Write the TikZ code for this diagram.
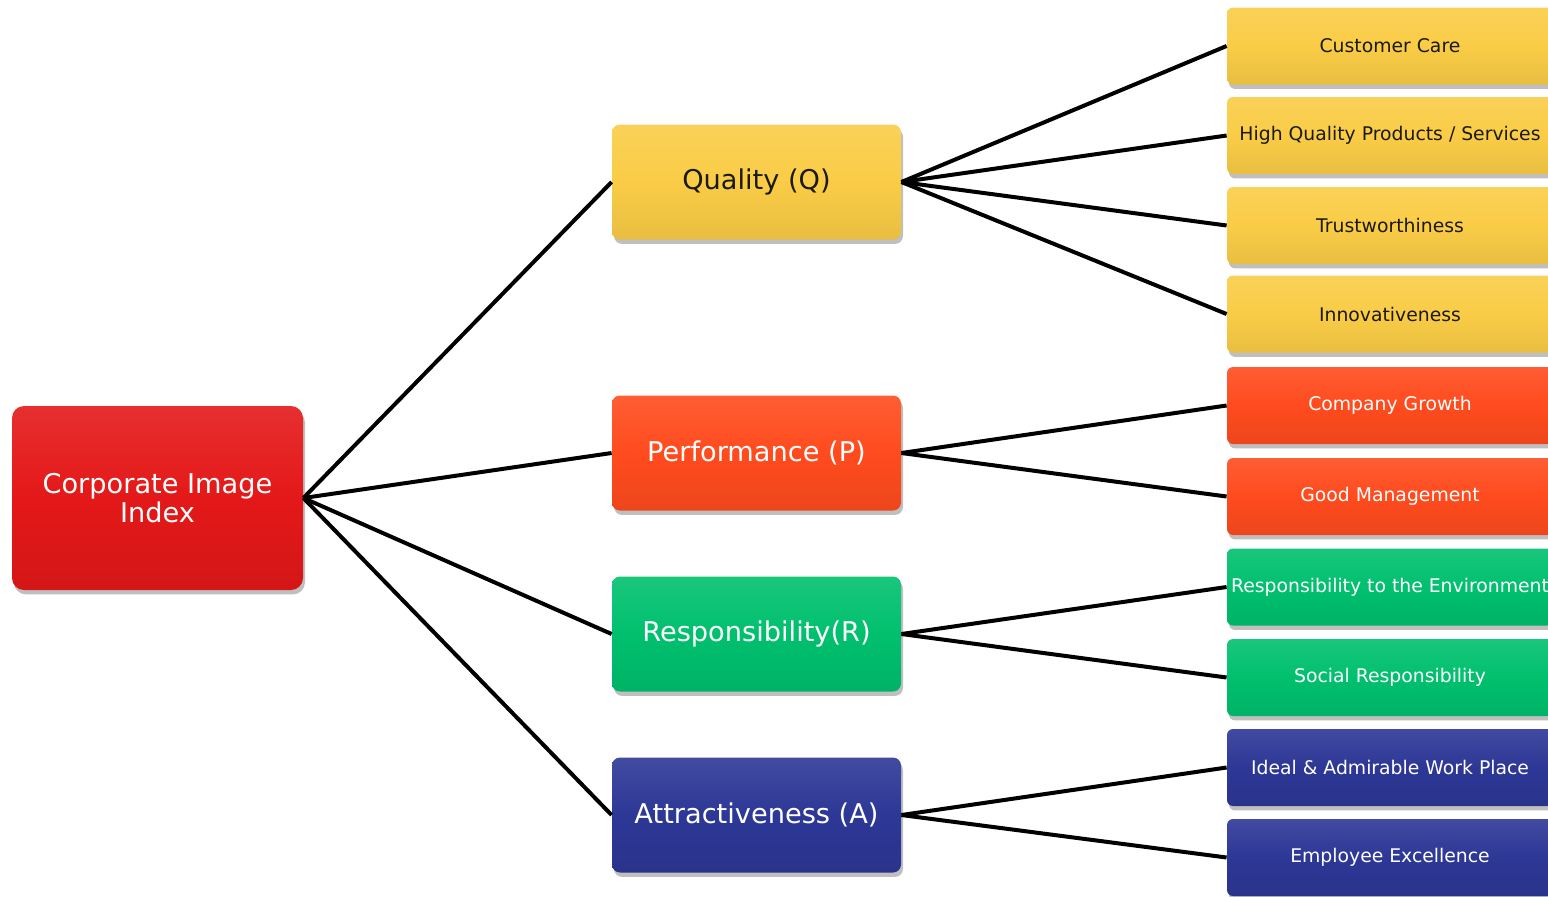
\documentclass[tikz,border=0pt]{standalone}
\usepackage{fontspec}
\setmainfont{DejaVu Sans}
\usetikzlibrary{shadows}
\definecolor{cred}{HTML}{E41818}
\definecolor{cyel}{HTML}{FACC46}
\definecolor{corg}{HTML}{FF4B1E}
\definecolor{cgrn}{HTML}{00C06E}
\definecolor{cblu}{HTML}{2D3796}
\definecolor{ctxt}{HTML}{1A1A10}
\tikzset{
  box/.style={rectangle, inner sep=0pt, align=center,
    drop shadow={shadow xshift=1pt, shadow yshift=-2.2pt, opacity=0.25, fill=black}},
  tint/.style={top color=#1!90!white, bottom color=#1!93!black, middle color=#1},
  rootbox/.style={box, tint=cred, rounded corners=6pt, minimum width=145.5pt, minimum height=92pt,
    text=white, font=\fontsize{13.6}{14.5}\selectfont},
  midbox/.style={box, rounded corners=4pt, minimum width=144.5pt, minimum height=57.5pt,
    font=\fontsize{13.6}{15}\selectfont},
  leafbox/.style={box, rounded corners=3pt, minimum width=163pt, minimum height=38.5pt,
    font=\fontsize{9.4}{11}\selectfont},
  yel/.style={tint=cyel, text=ctxt},
  org/.style={tint=corg, text=white},
  grn/.style={tint=cgrn, text=white},
  blu/.style={tint=cblu, text=white},
  link/.style={draw=black, line width=2pt}
}
\begin{document}
\begin{tikzpicture}[x=0.5pt,y=-0.5pt]
\useasboundingbox (0,0) rectangle (1548,896);
\clip (0,0) rectangle (1548,896);
\node[rootbox] (root) at (157.5,498) {Corporate Image\\Index};
\node[midbox,yel] (q) at (756.5,182) {Quality (Q)};
\node[midbox,org] (p) at (756.5,453) {Performance (P)};
\node[midbox,grn] (r) at (756.5,634) {Responsibility(R)};
\node[midbox,blu] (a) at (756.5,815) {Attractiveness (A)};
\node[leafbox,yel] (l1) at (1390,46) {Customer Care};
\node[leafbox,yel] (l2) at (1390,135.5) {High Quality Products / Services};
\node[leafbox,yel] (l3) at (1390,225.5) {Trustworthiness};
\node[leafbox,yel] (l4) at (1390,314) {Innovativeness};
\node[leafbox,org] (l5) at (1390,405.5) {Company Growth};
\node[leafbox,org] (l6) at (1390,496.5) {Good Management};
\node[leafbox,grn] (l7) at (1390,587) {Responsibility to the Environment};
\node[leafbox,grn] (l8) at (1390,677.5) {Social Responsibility};
\node[leafbox,blu] (l9) at (1390,767.5) {Ideal \& Admirable Work Place};
\node[leafbox,blu] (l10) at (1390,857.5) {Employee Excellence};
\foreach \m in {q,p,r,a} \draw[link] (root.east) -- (\m.west);
\foreach \l in {l1,l2,l3,l4} \draw[link] (q.east) -- (\l.west);
\foreach \l in {l5,l6} \draw[link] (p.east) -- (\l.west);
\foreach \l in {l7,l8} \draw[link] (r.east) -- (\l.west);
\foreach \l in {l9,l10} \draw[link] (a.east) -- (\l.west);
\end{tikzpicture}
\end{document}
